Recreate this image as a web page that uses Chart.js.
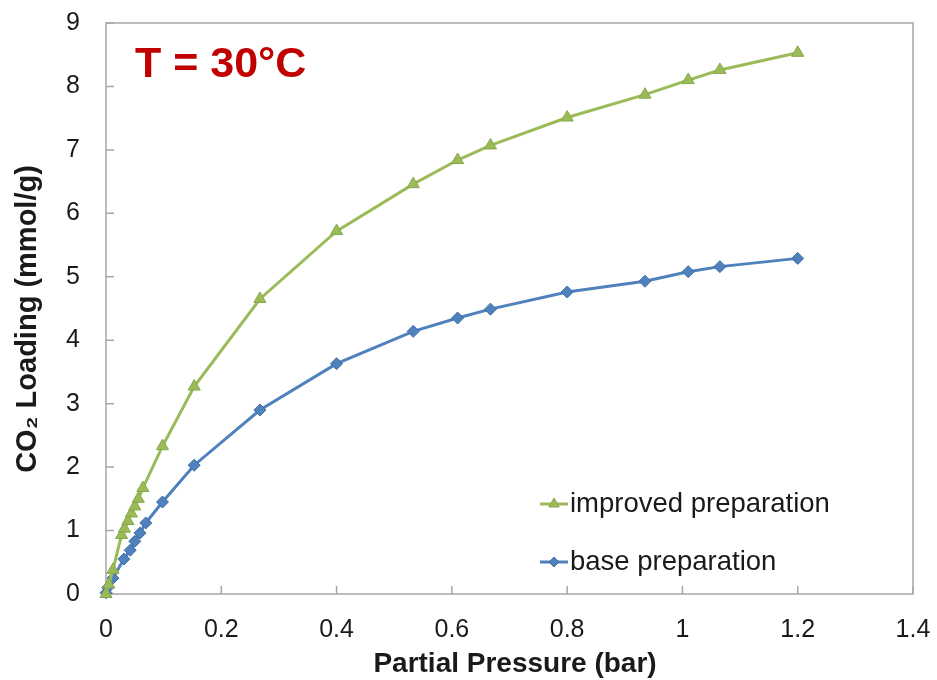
<!DOCTYPE html>
<html>
<head>
<meta charset="utf-8">
<script src="https://cdn.jsdelivr.net/npm/chart.js@4.4.1/dist/chart.umd.min.js"></script>
<style>
  html, body { margin: 0; padding: 0; background: #fff; }
  #wrap { width: 937px; height: 680px; }
</style>
</head>
<body>
<div id="wrap"><canvas id="co2Chart" width="937" height="680"></canvas></div>
<script>
// partial pressure (bar) and CO2 loading (mmol/g)
const pressureImproved = [0, 0.005, 0.012, 0.027, 0.032, 0.038, 0.044, 0.05, 0.056, 0.064, 0.098, 0.153, 0.267, 0.4, 0.533, 0.61, 0.667, 0.8, 0.935, 1.01, 1.065, 1.2];
const loadingImproved  = [0, 0.15, 0.38, 0.93, 1.03, 1.15, 1.27, 1.38, 1.5, 1.67, 2.33, 3.27, 4.65, 5.72, 6.46, 6.84, 7.07, 7.51, 7.87, 8.1, 8.26, 8.53];

const pressureBase = [0, 0.003, 0.012, 0.031, 0.042, 0.05, 0.059, 0.069, 0.098, 0.153, 0.267, 0.4, 0.533, 0.61, 0.667, 0.8, 0.935, 1.01, 1.065, 1.2];
const loadingBase  = [0.02, 0.1, 0.25, 0.55, 0.69, 0.83, 0.96, 1.12, 1.45, 2.03, 2.9, 3.63, 4.14, 4.35, 4.49, 4.76, 4.93, 5.08, 5.16, 5.29];

const seriesNames = ["improved preparation", "base preparation"];
const xTickValues = [0, 0.2, 0.4, 0.6, 0.8, 1, 1.2, 1.4];
const yTickValues = [0, 1, 2, 3, 4, 5, 6, 7, 8, 9];
const xTitle = "Partial Pressure (bar)";
const yTitle = "CO\u2082 Loading (mmol/g)";

const FONT = "'Liberation Sans', Arial, Helvetica, sans-serif";
const greenCol = "#9bbb59";
const blueCol = "#4f81bd";

function toPoints(xs, ys) {
    return xs.map(function (x, i) { return { x: x, y: ys[i] }; });
}

// labels must not push the plot area in, the layout padding sets it
function noLabelPadding(s) {
    s.paddingTop = 0;
    s.paddingBottom = 0;
    s.paddingLeft = 0;
    s.paddingRight = 0;
}

// frame, inward ticks, axis titles, title and legend
const decorations = {
    id: "decorations",
    beforeDatasetsDraw(chart) {
        const ctx = chart.ctx;
        const a = chart.chartArea;
        const xs = chart.scales.x, ys = chart.scales.y;
        ctx.save();
        ctx.strokeStyle = "#a6a6a6";
        ctx.lineWidth = 1.5;
        ctx.strokeRect(a.left, a.top, a.right - a.left, a.bottom - a.top);
        ctx.beginPath();
        xTickValues.forEach(function (v) {
            const px = xs.getPixelForValue(v);
            ctx.moveTo(px, a.bottom);
            ctx.lineTo(px, a.bottom - 8);
        });
        yTickValues.forEach(function (v) {
            const py = ys.getPixelForValue(v);
            ctx.moveTo(a.left, py);
            ctx.lineTo(a.left + 8, py);
        });
        ctx.stroke();
        ctx.restore();
    },
    afterDraw(chart) {
        const ctx = chart.ctx;
        ctx.save();

        // axis titles
        ctx.fillStyle = "#1a1a1a";
        ctx.textAlign = "center";
        ctx.textBaseline = "alphabetic";
        ctx.font = "bold 28px " + FONT;
        ctx.fillText(xTitle, 515, 672);
        ctx.save();
        ctx.translate(36, 319);
        ctx.rotate(-Math.PI / 2);
        ctx.font = "bold 29px " + FONT;
        ctx.fillText(yTitle, 0, 0);
        ctx.restore();

        ctx.fillStyle = "#c00000";
        ctx.font = "bold 43px " + FONT;
        ctx.textAlign = "left";
        ctx.fillText("T = 30°C", 135, 77);

        // legend
        const rows = [
            { ds: chart.data.datasets[0], y: 504 },
            { ds: chart.data.datasets[1], y: 562 }
        ];
        rows.forEach(function (r) {
            ctx.strokeStyle = r.ds.borderColor;
            ctx.lineWidth = 3;
            ctx.beginPath();
            ctx.moveTo(540, r.y);
            ctx.lineTo(568, r.y);
            ctx.stroke();
            ctx.fillStyle = r.ds.pointBackgroundColor;
            ctx.strokeStyle = r.ds.pointBorderColor;
            ctx.lineWidth = 1;
            Chart.helpers.drawPoint(ctx, {
                pointStyle: r.ds.pointStyle,
                radius: r.ds.pointRadius - 1,
                rotation: 0,
                borderWidth: 1
            }, 554, r.y);
            ctx.fillStyle = "#1a1a1a";
            ctx.font = "27.5px " + FONT;
            ctx.textBaseline = "middle";
            ctx.fillText(r.ds.label, 570, r.y);
        });
        ctx.restore();
    }
};

new Chart("co2Chart", {
    type: "scatter",
    data: {
        datasets: [
            {
                label: seriesNames[0],
                data: toPoints(pressureImproved, loadingImproved),
                showLine: true,
                borderColor: greenCol,
                borderWidth: 3,
                pointStyle: "triangle",
                pointRadius: 7,
                pointBackgroundColor: greenCol,
                pointBorderColor: "#86a84a",
                pointBorderWidth: 1,
                clip: false
            },
            {
                label: seriesNames[1],
                data: toPoints(pressureBase, loadingBase),
                showLine: true,
                borderColor: blueCol,
                borderWidth: 3,
                pointStyle: "rectRot",
                pointRadius: 6,
                pointBackgroundColor: blueCol,
                pointBorderColor: "#3f6ea6",
                pointBorderWidth: 1,
                clip: false
            }
        ]
    },
    options: {
        responsive: false,
        animation: false,
        layout: { padding: { left: 0, top: 23, right: 24, bottom: 0 } },
        plugins: {
            legend: { display: false },
            tooltip: { enabled: false }
        },
        scales: {
            x: {
                type: "linear",
                min: 0,
                max: 1.4,
                afterFit: function (s) { s.height = 86; noLabelPadding(s); },
                afterBuildTicks: function (s) {
                    s.ticks = xTickValues.map(function (v) { return { value: v }; });
                },
                grid: { display: false, drawTicks: false },
                border: { display: false },
                ticks: {
                    padding: 21,
                    color: "#1a1a1a",
                    font: { family: FONT, size: 25 },
                    maxRotation: 0,
                    callback: function (v) { return String(Math.round(v * 10) / 10); }
                }
            },
            y: {
                type: "linear",
                min: 0,
                max: 9,
                afterFit: function (s) { s.width = 106; noLabelPadding(s); },
                afterBuildTicks: function (s) {
                    s.ticks = yTickValues.map(function (v) { return { value: v }; });
                },
                grid: { display: false, drawTicks: false },
                border: { display: false },
                ticks: {
                    padding: 26,
                    color: "#1a1a1a",
                    font: { family: FONT, size: 25 }
                }
            }
        }
    },
    plugins: [decorations]
});
</script>
</body>
</html>
